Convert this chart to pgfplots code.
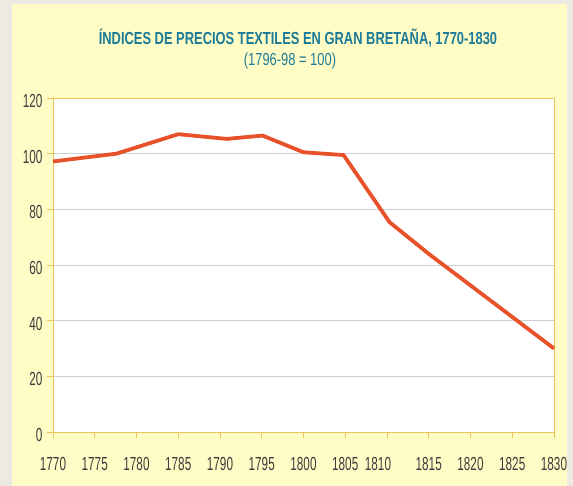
\documentclass[border=0pt]{standalone}
\usepackage{fontspec}
\setmainfont{Liberation Sans}[FakeStretch=0.62]
\newfontfamily\titlefont{Liberation Sans}[FakeStretch=0.74]
\usepackage{pgfplots}
\pgfplotsset{compat=1.18}
\definecolor{bggrey}{HTML}{ECEAE3}
\definecolor{panel}{HTML}{FFFCC6}
\definecolor{titleteal}{HTML}{1C7C98}
\definecolor{axisgold}{HTML}{E9C45A}
\definecolor{gridc}{HTML}{C9D0D6}
\definecolor{linered}{HTML}{E8522A}
\definecolor{ticktext}{HTML}{3C3C3C}
\begin{document}
\begin{tikzpicture}
\useasboundingbox (0bp,0bp) rectangle (573bp,486bp);
\fill[bggrey] (0bp,0bp) rectangle (573bp,486bp);
\fill[panel] (12bp,0bp) rectangle (567bp,482bp);
\node[titleteal, font=\titlefont\fontsize{17.5}{19}\selectfont\bfseries] at (298bp,448bp) {ÍNDICES DE PRECIOS TEXTILES EN GRAN BRETAÑA, 1770-1830};
\node[titleteal, font=\titlefont\fontsize{17.5}{19}\selectfont] at (290bp,425bp) {(1796-98 = 100)};
\begin{axis}[
  at={(53bp,54bp)}, anchor=south west,
  scale only axis, width=501bp, height=334bp,
  xmin=1770, xmax=1830, ymin=0, ymax=120,
  xtick={1770,1775,...,1830},
  ytick={0,20,...,120},
  xticklabels={1770,1775,1780,1785,1790,1795,1800,1805,{\makebox[0pt]{\hspace*{-18bp}1810}},1815,1820,1825,1830},
  /pgf/number format/1000 sep={},
  /pgf/number format/assume math mode=true,
  tick align=outside,
  xtick pos=bottom, ytick pos=left,
  major tick length=6bp,
  every tick/.style={axisgold, line width=0.8pt},
  axis line style={axisgold, line width=0.8pt},
  axis background/.style={fill=white},
  ymajorgrids=true,
  major grid style={gridc, line width=0.8pt},
  tick label style={ticktext, font=\fontsize{19}{20}\selectfont},
  xticklabel style={yshift=-16bp},
  yticklabel style={xshift=-1bp, yshift=-3bp},
  clip=false,
]
\addplot[linered, line width=3.8pt, line join=round] coordinates {
  (1770,97.2) (1777.6,100) (1785,107) (1790.8,105.3) (1795.1,106.5)
  (1800,100.5) (1804.8,99.5) (1810.3,75.4) (1815,64) (1830,30)
};
\end{axis}
\end{tikzpicture}
\end{document}
